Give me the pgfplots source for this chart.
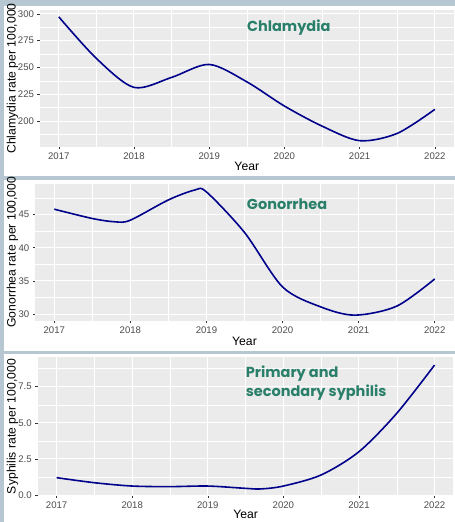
\documentclass[border=0pt]{standalone}
\usepackage{pgfplots}
\pgfplotsset{compat=1.18}
\usepackage{fontspec}
\setmainfont{Liberation Sans}
\newfontfamily\pop{Poppins}
\definecolor{bgband}{HTML}{B7C7D1}
\definecolor{panelbg}{HTML}{EBEBEB}
\definecolor{tickgray}{HTML}{4D4D4D}
\definecolor{annot}{HTML}{2A7F6A}
\definecolor{linecol}{HTML}{00008B}
\pgfplotsset{gg/.style={
  scale only axis, anchor=south west,
  axis background/.style={fill=panelbg},
  axis line style={draw=none},
  tick align=outside, tick pos=left,
  major tick length=2.5pt, minor tick length=0pt,
  major tick style={draw=black!80, line width=0.5pt},
  grid=both,
  major grid style={white, line width=1pt},
  minor grid style={white, line width=0.5pt},
  xmin=2016.75, xmax=2022.25,
  xtick={2017,2018,2019,2020,2021,2022},
  minor xtick={2017.5,2018.5,2019.5,2020.5,2021.5},
  /pgf/number format/1000 sep={},
  /pgf/number format/assume math mode=true,
  tick label style={font=\fontsize{9.6}{11}\selectfont, text=tickgray},
  xlabel=Year,
  every axis x label/.style={at={(axis description cs:0.5,0)}, anchor=center, yshift=-19.5pt, font=\fontsize{12.2}{14}\selectfont},
  every axis y label/.style={at={(axis description cs:0,0.5)}, rotate=90, anchor=center, font=\fontsize{12.2}{14}\selectfont},
}}
\begin{document}
\begin{tikzpicture}
\fill[bgband] (0,0) rectangle (455pt,522pt);
\fill[white] (4pt,346pt) rectangle (455pt,516pt);
\fill[white] (4pt,171pt) rectangle (455pt,342pt);
\fill[white] (4pt,0pt) rectangle (455pt,168pt);

% Chlamydia
\begin{axis}[gg, at={(40pt,375.5pt)}, width=414pt, height=136.6pt,
  ymin=176, ymax=303.3,
  ytick={200,225,250,275,300},
  minor ytick={187.5,212.5,237.5,262.5,287.5},
  ylabel={Chlamydia rate per 100,000},
  ylabel style={yshift=27.5pt}]
\addplot[linecol, line width=1.6pt, smooth] coordinates {
 (2017,297.2) (2017.5,258.4) (2018,231.4) (2018.5,240.7) (2019,252.8)
 (2019.5,236.6) (2020,214) (2020.5,195.3) (2021,181.7) (2021.5,188.5) (2022,210.9)};
\node[anchor=west, text=annot, font=\pop\bfseries\fontsize{14.5}{17}\selectfont, inner sep=0pt] at (axis cs:2019.5,287.6) {Chlamydia};
\end{axis}

% Gonorrhea
\begin{axis}[gg, at={(35.3pt,201.3pt)}, width=418.8pt, height=137.4pt,
  ymin=28.99, ymax=49.66,
  ytick={30,35,40,45},
  minor ytick={32.5,37.5,42.5,47.5},
  ylabel={Gonorrhea rate per 100,000},
  ylabel style={yshift=22.8pt},
  every axis x label/.append style={yshift=-1pt}]
\addplot[linecol, line width=1.6pt, smooth] coordinates {
 (2017,45.8) (2017.5,44.4) (2017.8,43.9) (2018,44.15) (2018.5,47.2) (2018.85,48.7)
 (2019,48.4) (2019.5,42.3) (2020,34.1) (2020.5,31.1) (2020.95,29.85) (2021.5,31.2) (2022,35.3)};
\node[anchor=west, text=annot, font=\pop\bfseries\fontsize{14.5}{17}\selectfont, inner sep=0pt] at (axis cs:2019.53,46.55) {Gonorrhea};
\end{axis}

% Syphilis
\begin{axis}[gg, at={(37.8pt,26.3pt)}, width=416pt, height=138.4pt,
  ymin=-0.05, ymax=9.53,
  ytick={0,2.5,5,7.5},
  yticklabels={0.0,2.5,5.0,7.5},
  minor ytick={1.25,3.75,6.25,8.75},
  ylabel={Syphilis rate per 100,000},
  ylabel style={yshift=25.3pt},
  every axis x label/.append style={yshift=1pt}]
\addplot[linecol, line width=1.6pt, smooth] coordinates {
 (2017,1.2) (2017.5,0.85) (2018,0.62) (2018.5,0.58) (2019,0.62) (2019.5,0.46)
 (2019.7,0.42) (2020,0.62) (2020.5,1.39) (2021,3.0) (2021.5,5.66) (2022,9.0)};
\node[anchor=west, align=left, text=annot, font=\pop\bfseries\fontsize{14.5}{19.4}\selectfont, inner sep=0pt] at (axis cs:2019.5,7.75) {Primary and\\secondary syphilis};
\end{axis}
\end{tikzpicture}
\end{document}
